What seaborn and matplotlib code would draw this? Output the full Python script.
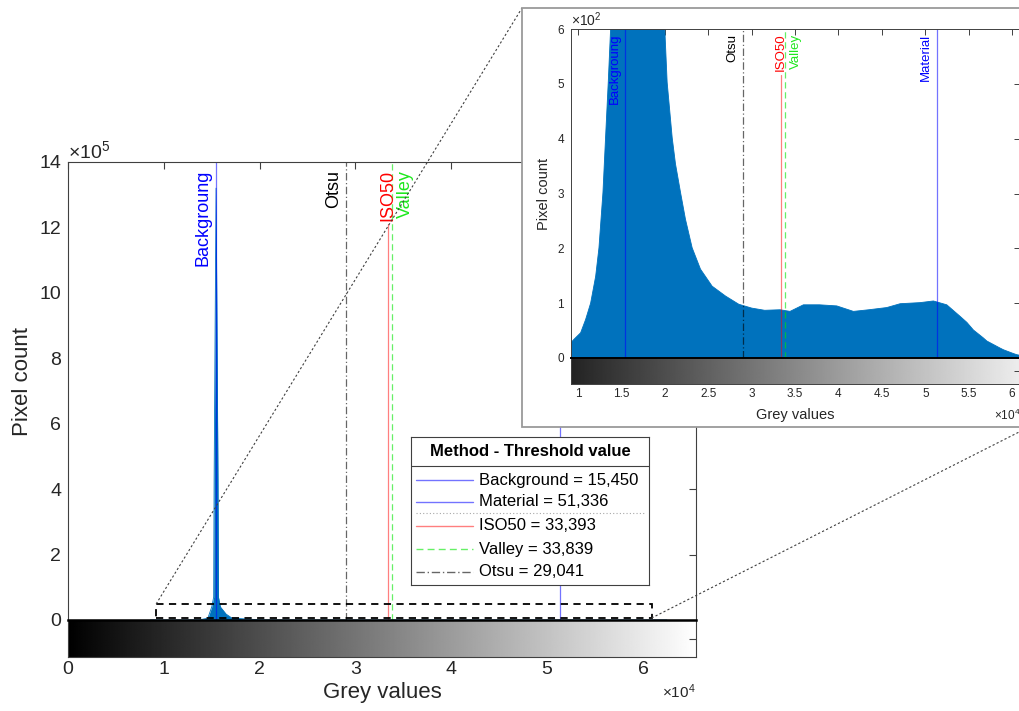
import numpy as np
import matplotlib
matplotlib.use("Agg")
import matplotlib.pyplot as plt
import seaborn as sns
from matplotlib.patches import Rectangle
from matplotlib.lines import Line2D
from matplotlib.ticker import FixedLocator, FuncFormatter

# ---------------------------------------------------------------- data
# Grey-value histogram outline (grey value -> pixel count)
grey_values = [8600, 8970, 9540, 10310, 10880, 11460, 12040, 12420, 12880,
               13180, 13490, 13760, 14600, 15000, 15200, 15250, 15450, 15650,
               15700, 15900, 16500, 17100, 20000, 20270, 20850, 21230, 21810,
               22380, 23150, 24110, 25450, 26990, 28520, 30010, 31500, 33270,
               34420, 35960, 37800, 39800, 41720, 43500, 45560, 47100, 49400,
               50930, 52470, 54000, 54780, 55540, 56650, 57080, 58620, 59000,
               60160, 60540, 61500, 62500]
pixel_counts = [15, 24, 34, 46, 70, 100, 149, 201, 302,
                402, 503, 600, 6000, 40000, 70000, 430000, 1320000, 430000,
                70000, 40000, 18000, 6000, 600, 503, 402, 354, 302,
                253, 201, 162, 131, 113, 98, 91, 87, 88,
                85, 97, 97, 95, 85, 88, 92, 99, 101,
                104, 97, 76, 65, 51, 37, 31, 18, 15,
                8, 6, 3, 0]

# Threshold methods and their values
methods = ["Background", "Material", "ISO50", "Valley", "Otsu"]
threshold_values = [15450, 51336, 33393, 33839, 29041]
line_labels = ["Backgroung", "Material", "ISO50", "Valley", "Otsu"]

main_xticks = [0, 10000, 20000, 30000, 40000, 50000, 60000]
main_yticks = [0, 200000, 400000, 600000, 800000, 1000000, 1200000, 1400000]
zoom_xticks = [10000, 15000, 20000, 25000, 30000, 35000, 40000, 45000,
               50000, 55000, 60000]
zoom_yticks = [0, 100, 200, 300, 400, 500, 600]
zoom_xrange = (9200, 60900)

# ---------------------------------------------------------------- style
sns.set_theme(style="white")
plt.rcParams["font.family"] = ["Liberation Sans", "DejaVu Sans"]
plt.rcParams["mathtext.default"] = "regular"

FRAME = "#404040"
TEXT = "#262626"
HIST = "#0072BD"

line_style = {
    "Background": dict(color=(0, 0, 1), alpha=0.55, ls="-"),
    "Material": dict(color=(0, 0, 1), alpha=0.55, ls="-"),
    "ISO50": dict(color=(1, 0, 0), alpha=0.5, ls="-"),
    "Valley": dict(color=(0, 0.9, 0), alpha=0.6, ls=(0, (5, 3))),
    "Otsu": dict(color=(0, 0, 0), alpha=0.6, ls=(0, (6, 2, 1, 2))),
}
label_color = {"Background": "#0000FF", "Material": "#0000FF",
               "ISO50": "#FF0000", "Valley": "#1EE81E", "Otsu": "#000000"}
label_side = {"Background": "left", "Material": "left", "ISO50": "center",
              "Valley": "right", "Otsu": "left"}

W, H = 1019, 711
fig = plt.figure(figsize=(W / 100, H / 100), dpi=100)
fig.patch.set_facecolor("white")


def px_axes(x0, y0, x1, y1, **kw):
    return fig.add_axes([x0 / W, 1 - y1 / H, (x1 - x0) / W, (y1 - y0) / H], **kw)


def style_frame(ax, lw=0.8, color=FRAME):
    for s in ax.spines.values():
        s.set_visible(True)
        s.set_color(color)
        s.set_linewidth(lw)


def draw_hist(ax):
    ax.fill_between(grey_values, pixel_counts, 0, color=HIST, lw=0, zorder=1)
    sns.lineplot(x=grey_values, y=pixel_counts, ax=ax, color=HIST, lw=0.6,
                 zorder=1.5, legend=False)


def draw_thresholds(ax, fs, dx, dy):
    lines, texts = {}, {}
    for m, v, lab in zip(methods, threshold_values, line_labels):
        st = line_style[m]
        ln = ax.axvline(v, ymin=0, ymax=1, color=st["color"], alpha=st["alpha"],
                        ls=st["ls"], lw=0.9, zorder=2)
        lines[m] = ln
        side = label_side[m]
        off = {"left": -dx, "right": dx, "center": 0}[side]
        ha = {"left": "right", "right": "left", "center": "center"}[side]
        t = ax.annotate(lab, xy=(v, 1), xycoords=("data", "axes fraction"),
                        xytext=(off, -dy), textcoords="offset points",
                        rotation=90, ha=ha, va="top", fontsize=fs,
                        color=label_color[m], zorder=3, annotation_clip=False)
        texts[m] = t
    return lines, texts


# ---------------------------------------------------------------- main plot
ax = px_axes(68, 162, 696, 620, zorder=0)
draw_hist(ax)
main_lines, main_texts = draw_thresholds(ax, 13, 3, 5.5)
ax.set_xlim(0, 65535)
ax.set_ylim(0, 1400000)
ax.xaxis.set_major_locator(FixedLocator(main_xticks))
ax.yaxis.set_major_locator(FixedLocator(main_yticks))
ax.yaxis.set_major_formatter(FuncFormatter(lambda v, _: f"{v / 1e5:g}"))
ax.tick_params(axis="both", direction="in", length=5, width=0.8, color=FRAME,
               top=True, right=True, labelbottom=False, labelsize=14,
               labelcolor=TEXT, pad=5)
ax.set_xlabel("")
ax.set_ylabel("Pixel count", fontsize=16, color=TEXT)
ax.yaxis.set_label_coords(-0.056, 0.52)
style_frame(ax)
ax.text(0.0, 1.0, r"$\times10^{5}$", transform=ax.transAxes, ha="left",
        va="bottom", fontsize=14, color=TEXT)

# zoom rectangle on the main plot
ax.add_patch(Rectangle((zoom_xrange[0], 6000), zoom_xrange[1] - zoom_xrange[0],
                       43000, fill=False, ec="black", lw=1.3,
                       ls=(0, (4, 3)), zorder=4))

# grey colour bar under the main plot
cb = px_axes(68, 620, 696, 657, zorder=0)
grad = np.linspace(0, 1, 512)[None, :]
cb.imshow(grad, extent=[0, 65535, 0, 1], aspect="auto", cmap="gray",
          vmin=0, vmax=1, interpolation="bilinear")
cb.set_xlim(0, 65535)
cb.set_ylim(0, 1)
cb.xaxis.set_major_locator(FixedLocator(main_xticks))
cb.xaxis.set_major_formatter(FuncFormatter(lambda v, _: f"{v / 1e4:g}"))
cb.yaxis.set_major_locator(FixedLocator([0.5]))
cb.tick_params(axis="both", direction="in", length=5, width=0.8, color=FRAME,
               right=True, labelleft=False, labelsize=14, labelcolor=TEXT, pad=3)
style_frame(cb)
cb.spines["top"].set_color("black")
cb.spines["top"].set_linewidth(1.8)
cb.set_xlabel("Grey values", fontsize=16, color=TEXT)
cb.xaxis.set_label_coords(0.5, -0.68)
cb.text(1.0, -0.95, r"$\times10^{4}$", transform=cb.transAxes, ha="right",
        va="center", fontsize=11, color=TEXT)

# ---------------------------------------------------------------- legend
lg = px_axes(411, 437, 649, 585, zorder=1.5)
lg.set_xlim(0, 1)
lg.set_ylim(0, 1)
lg.set_xticks([])
lg.set_yticks([])
lg.set_facecolor("white")
style_frame(lg)
lg.text(0.5, 0.905, "Method - Threshold value", ha="center", va="center",
        fontsize=12, weight="bold", color="black")
lg.axhline(0.804, color=FRAME, lw=0.8)
lg.plot([0.021, 0.983], [0.485, 0.485], color="#a8a8a8", lw=0.8, ls=(0, (1, 2)))
row_y = [0.709, 0.561, 0.399, 0.243, 0.088]
for m, v, y in zip(methods, threshold_values, row_y):
    st = line_style[m]
    lg.plot([0.021, 0.26], [y, y], color=st["color"], alpha=st["alpha"],
            ls=st["ls"], lw=1.0)
    lg.text(0.286, y, f"{m} = {v:,}", ha="left", va="center", fontsize=12,
            color="black")

# ---------------------------------------------------------------- zoomed inset
frame = Rectangle((522 / W, 1 - 427 / H), (1029 - 522) / W, (427 - 8) / H,
                  transform=fig.transFigure, facecolor="white",
                  edgecolor="#9a9a9a", lw=1.3, zorder=2)
fig.add_artist(frame)

ax2 = px_axes(571, 29, 1020, 358, zorder=3)
draw_hist(ax2)
zoom_lines, zoom_texts = draw_thresholds(ax2, 9.5, 3.5, 3.5)
ax2.set_xlim(*zoom_xrange)
ax2.set_ylim(0, 600)
ax2.set_facecolor("white")
ax2.xaxis.set_major_locator(FixedLocator(zoom_xticks))
ax2.yaxis.set_major_locator(FixedLocator(zoom_yticks))
ax2.yaxis.set_major_formatter(FuncFormatter(lambda v, _: f"{v / 100:g}"))
ax2.tick_params(axis="both", direction="in", length=4, width=0.7, color=FRAME,
                top=True, right=True, labelbottom=False, labelsize=8.5,
                labelcolor=TEXT, pad=5)
ax2.set_xlabel("")
ax2.set_ylabel("Pixel count", fontsize=10.5, color=TEXT)
ax2.yaxis.set_label_coords(-0.045, 0.5)
style_frame(ax2, lw=0.7)
ax2.text(0.0, 1.0, r"$\times10^{2}$", transform=ax2.transAxes, ha="left",
         va="bottom", fontsize=10, color=TEXT)

cb2 = px_axes(571, 358, 1020, 384, zorder=3)
cb2.imshow(grad, extent=[0, 65535, 0, 1], aspect="auto", cmap="gray",
           vmin=0, vmax=1, interpolation="bilinear")
cb2.set_xlim(*zoom_xrange)
cb2.set_ylim(0, 1)
cb2.xaxis.set_major_locator(FixedLocator(zoom_xticks))
cb2.xaxis.set_major_formatter(FuncFormatter(lambda v, _: f"{v / 1e4:g}"))
cb2.yaxis.set_major_locator(FixedLocator([0.5]))
cb2.tick_params(axis="both", direction="in", length=4, width=0.7, color=FRAME,
                right=True, labelleft=False, labelsize=8.5, labelcolor=TEXT,
                pad=3)
style_frame(cb2, lw=0.7)
cb2.spines["top"].set_color("black")
cb2.spines["top"].set_linewidth(1.4)
cb2.set_xlabel("Grey values", fontsize=10.5, color=TEXT)
cb2.xaxis.set_label_coords(0.5, -0.92)
cb2.text(1.0, -1.19, r"$\times10^{4}$", transform=cb2.transAxes, ha="right",
         va="center", fontsize=8.5, color=TEXT)

# ---------------------------------------------------------------- ISO50 line stops below its centred label
fig.canvas.draw()
for a, lines, texts, gap in ((ax, main_lines, main_texts, 3),
                             (ax2, zoom_lines, zoom_texts, 4)):
    bb = texts["ISO50"].get_window_extent().transformed(a.transAxes.inverted())
    top = bb.y0 - gap / a.get_window_extent().height
    lines["ISO50"].set_ydata([0, top])

# ---------------------------------------------------------------- connector lines
rx0, ry0 = ax.transData.transform((zoom_xrange[0], 49000))
rx1, ry1 = ax.transData.transform((zoom_xrange[1], 6000))
for (xa, ya), (xb, yb) in (((rx0, ry0), (522, H - 8)),
                           ((rx1, ry1), (1029, H - 427))):
    fig.add_artist(Line2D([xa / W, xb / W], [ya / H, yb / H],
                          transform=fig.transFigure, color=FRAME, lw=0.8,
                          ls=(0, (2, 2)), zorder=1))

fig.savefig("out.png", dpi=100, facecolor="white")
